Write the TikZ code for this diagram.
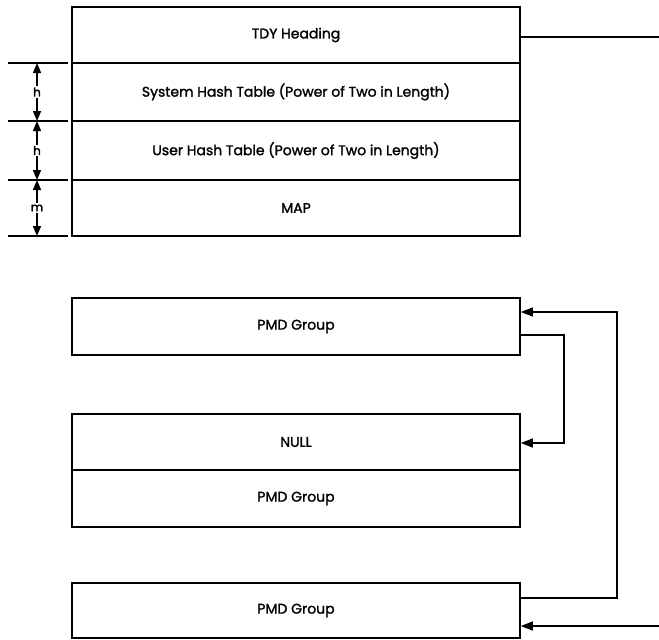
\documentclass[tikz,border=0pt]{standalone}
\usepackage{fontspec}
\setmainfont{Poppins}[FakeBold=1.6]
\usetikzlibrary{arrows.meta}
\begin{document}
\begin{tikzpicture}[x=1pt,y=-1pt,
  row/.style={draw,line width=1.6pt,minimum width=448pt,inner sep=0pt,font=\fontsize{14}{16}\selectfont},
  conn/.style={line width=1.3pt},
  tip/.style={-{Triangle[length=12pt,width=9pt]}},
  dim/.style={line width=1.4pt,{Triangle[length=10pt,width=8pt]}-{Triangle[length=10pt,width=8pt]}},
  tick/.style={line width=1.2pt},
  dimlabel/.style={fill=white,inner sep=1.5pt,font=\fontsize{12}{14}\selectfont}]
\useasboundingbox (0,0) rectangle (659,640);
% top block
\node[row,minimum height=56pt] (tdy) at (296,35) {TDY Heading};
\node[row,minimum height=58pt] (sys) at (296,92) {System Hash Table (Power of Two in Length)};
\node[row,minimum height=59pt] (usr) at (296,150.5) {User Hash Table (Power of Two in Length)};
\node[row,minimum height=56pt] (map) at (296,208) {MAP};
% dimension ticks
\coordinate (t1a) at (8,63);  \coordinate (t1b) at (68,63);
\coordinate (t2a) at (8,121); \coordinate (t2b) at (68,121);
\coordinate (t3a) at (8,180); \coordinate (t3b) at (68,180);
\coordinate (t4a) at (8,236); \coordinate (t4b) at (68,236);
\draw[tick] (t1a) -- (t1b);
\draw[tick] (t2a) -- (t2b);
\draw[tick] (t3a) -- (t3b);
\draw[tick] (t4a) -- (t4b);
\coordinate (d1) at (37,63); \coordinate (d2) at (37,121);
\coordinate (d3) at (37,180); \coordinate (d4) at (37,236);
\draw[dim] (d1) -- node[dimlabel] (lh1) {h} (d2);
\draw[dim] (d2) -- node[dimlabel] (lh2) {h} (d3);
\draw[dim] (d3) -- node[dimlabel] (lm) {m} (d4);
% top outgoing connector
\coordinate (out1) at (659,37);
\draw[conn] (tdy.east |- out1) -- (out1);
% PMD boxes
\node[row,minimum height=57pt] (pmd1) at (296,326.5) {PMD Group};
\node[row,minimum height=56pt] (null) at (296,442) {NULL};
\node[row,minimum height=57pt] (pmd2) at (296,498.5) {PMD Group};
\node[row,minimum height=55pt] (pmd3) at (296,610.5) {PMD Group};
% inner loop
\draw[conn,tip] (pmd1.east |- 0,335) -- (564,335) -- (564,443) -- (null.east |- 0,443);
% outer loop
\draw[conn,tip] (pmd3.east |- 0,598) -- (617,598) -- (617,312) -- (pmd1.east |- 0,312);
% bottom incoming
\coordinate (in3) at (659,626);
\draw[conn,tip] (in3) -- (pmd3.east |- in3);
\end{tikzpicture}
\end{document}
